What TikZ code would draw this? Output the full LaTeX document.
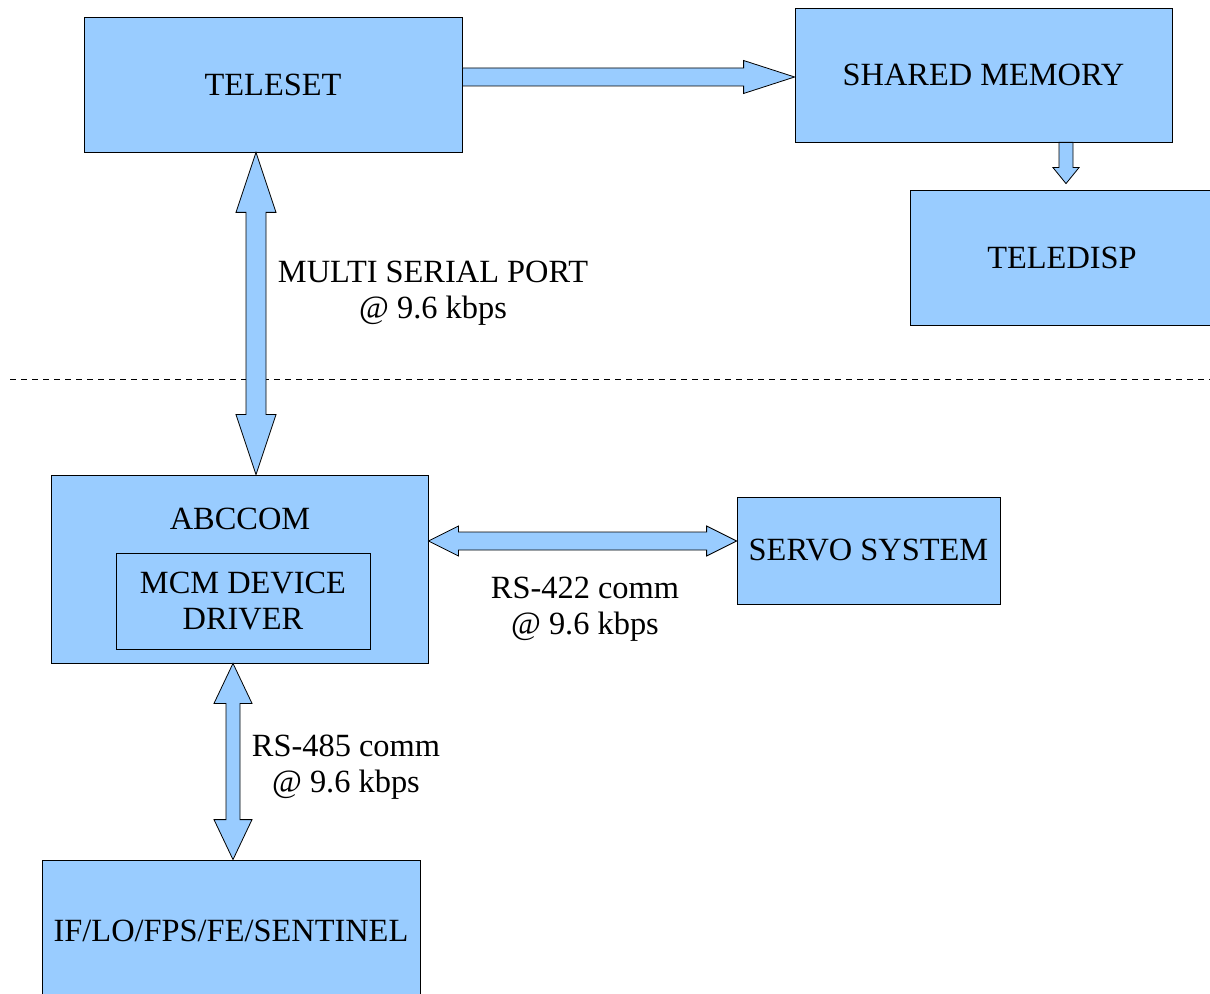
\documentclass[tikz,border=0pt]{standalone}
\usepackage{fontspec}
\setmainfont{Liberation Serif}
\usetikzlibrary{calc}

\definecolor{boxblue}{HTML}{99CCFF}

\tikzset{
  box/.style={draw=black, fill=boxblue, inner sep=0pt, align=center,
    font=\fontsize{16.2}{18}\selectfont},
  blockarrow/.style={draw=black, fill=boxblue, line join=miter},
  txt/.style={align=center, font=\fontsize{16.2}{18}\selectfont}
}

% one-headed fat arrow: from, to, half shaft, half head, head length
\newcommand{\fatarrow}[5]{%
  \coordinate (hb) at ($(#2)!#5!(#1)$);
  \draw[blockarrow] ($(#1)!#3!90:(#2)$) -- ($(hb)!#3!90:(#2)$)
    -- ($(hb)!#4!90:(#2)$) -- (#2) -- ($(hb)!#4!-90:(#2)$)
    -- ($(hb)!#3!-90:(#2)$) -- ($(#1)!#3!-90:(#2)$) -- cycle;}

% two-headed fat arrow: from, to, half shaft, half head, head length
\newcommand{\fatdarrow}[5]{%
  \coordinate (ha) at ($(#1)!#5!(#2)$);
  \coordinate (hb) at ($(#2)!#5!(#1)$);
  \draw[blockarrow] (#1) -- ($(ha)!#4!90:(#2)$) -- ($(ha)!#3!90:(#2)$)
    -- ($(hb)!#3!90:(#2)$) -- ($(hb)!#4!90:(#2)$) -- (#2)
    -- ($(hb)!#4!-90:(#2)$) -- ($(hb)!#3!-90:(#2)$)
    -- ($(ha)!#3!-90:(#2)$) -- ($(ha)!#4!-90:(#2)$) -- cycle;}

\begin{document}
\begin{tikzpicture}[x=0.5pt,y=-0.5pt]
  \useasboundingbox (0,0) rectangle (1210,994);

  \node[box, minimum width=189pt, minimum height=67.5pt] (teleset) at (273,84.5) {TELESET};
  \node[box, minimum width=188.5pt, minimum height=67pt] (shared) at (983.5,75) {SHARED MEMORY};
  \node[box, minimum width=152pt, minimum height=67.5pt] (teledisp) at (1062,257.5) {TELEDISP};

  \node[box, minimum width=188.5pt, minimum height=94pt] (abccom) at (239.5,569) {};
  \node[txt] (abccomtitle) at (240,519) {ABCCOM};
  \node[box, minimum width=127pt, minimum height=48pt] (mcm) at (243,601) {MCM DEVICE\\DRIVER};
  \node[box, minimum width=131.5pt, minimum height=53.5pt] (servo) at (868.5,550.5) {SERVO SYSTEM};
  \node[box, minimum width=189pt, minimum height=71pt] (ifbox) at (231,931) {IF/LO/FPS/FE/SENTINEL};

  \node[txt] (serial) at (433,293) {MULTI SERIAL PORT\\@ 9.6 kbps};
  \node[txt] (rs422) at (585,609) {RS-422 comm\\@ 9.6 kbps};
  \node[txt] (rs485) at (346,767) {RS-485 comm\\@ 9.6 kbps};

  \draw[dashed, dash pattern=on 3pt off 2.5pt, line width=0.4pt] (10,379) -- (1210,379);

  % connectors
  \coordinate (a1) at (teleset.east |- 0,77);
  \coordinate (a2) at (shared.west |- 0,77);
  \fatarrow{a1}{a2}{4.5pt}{8.25pt}{25.5pt}

  \coordinate (b1) at (shared.south -| 1066,0);
  \coordinate (b2) at (teledisp.north -| 1066,0);
  \coordinate (b3) at ($(b2)+(0,-6)$);
  \fatarrow{b1}{b3}{3.5pt}{6.5pt}{8pt}

  \coordinate (c1) at (teleset.south -| 256,0);
  \coordinate (c2) at (abccom.north -| 256,0);
  \fatdarrow{c1}{c2}{5pt}{10pt}{30pt}

  \coordinate (d1) at (abccom.east |- 0,541);
  \coordinate (d2) at (servo.west |- 0,541);
  \fatdarrow{d1}{d2}{4.5pt}{7.5pt}{15pt}

  \coordinate (e1) at (abccom.south -| 233,0);
  \coordinate (e2) at (ifbox.north -| 233,0);
  \fatdarrow{e1}{e2}{3.5pt}{9.5pt}{20pt}
\end{tikzpicture}
\end{document}
